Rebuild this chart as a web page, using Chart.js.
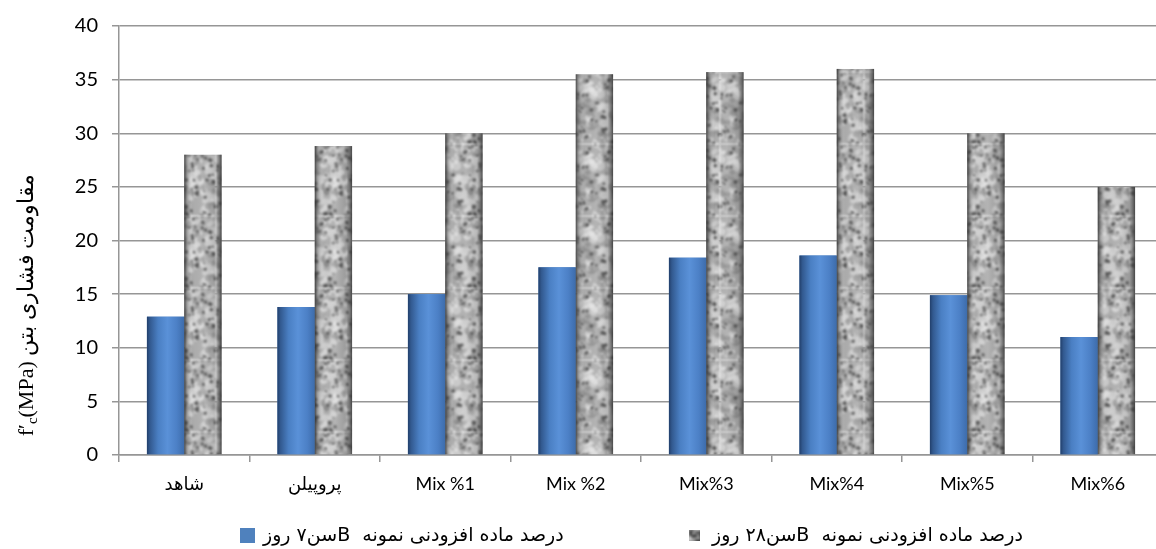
<!DOCTYPE html>
<html>
<head>
<meta charset="utf-8">
<script src="https://cdn.jsdelivr.net/npm/chart.js@4.4.1/dist/chart.umd.min.js"></script>
<style>
  html, body { margin: 0; padding: 0; background: #fff; overflow: hidden; }
  #wrap { width: 1166px; height: 549px; position: relative; }
</style>
</head>
<body>
<div id="wrap"><canvas id="c" width="1166" height="549"></canvas></div>
<script>
// Compressive strength of concrete mixes at 7 and 28 days
const categories = ['شاهد', 'پروپیلن', 'Mix %1', 'Mix %2', 'Mix%3', 'Mix%4', 'Mix%5', 'Mix%6'];
const strength7 = [12.9, 13.8, 15.0, 17.5, 18.4, 18.6, 14.9, 11.0];
const strength28 = [28.0, 28.8, 30.0, 35.5, 35.7, 36.0, 30.0, 25.0];
const seriesNames = ['درصد ماده افزودنی نمونه  Bسن۷ روز', 'درصد ماده افزودنی نمونه  Bسن۲۸ روز'];
const yMin = 0, yMax = 40, yStep = 5;

const GRID = '#969696';
const BLUE = '#4f81bd';

// Speckled stone texture for the 28-day bars (fixed seed, tiles seamlessly)
function makeGranite(size, base, seed) {
  const tile = document.createElement('canvas');
  tile.width = tile.height = size;
  const g = tile.getContext('2d');
  g.fillStyle = base;
  g.fillRect(0, 0, size, size);
  let s = seed;
  const next = () => (s = (s * 1103515245 + 12345) % 2147483648) / 2147483648;
  const blob = (color, rMin, rMax, n) => {
    for (let i = 0; i < n; i++) {
      const x = next() * size, y = next() * size;
      const r = rMin + next() * (rMax - rMin);
      const k = 0.6 + next() * 0.6, rot = next() * 3;
      g.fillStyle = color;
      for (const dx of [-size, 0, size]) for (const dy of [-size, 0, size]) {
        g.beginPath();
        g.ellipse(x + dx, y + dy, r, r * k, rot, 0, Math.PI * 2);
        g.fill();
      }
    }
  };
  blob('rgba(205,205,205,0.8)', 2.5, 6, 60);
  blob('rgba(225,225,225,0.7)', 1.5, 3.5, 50);
  blob('rgba(120,120,120,0.55)', 1.5, 3.5, 55);
  blob('rgba(55,55,55,0.8)', 0.9, 2.2, 75);
  // soften with a blur, drawn over a 3x3 repeat so the tile edges stay seamless
  const big = document.createElement('canvas');
  big.width = big.height = size * 3;
  const bg = big.getContext('2d');
  bg.filter = 'blur(0.9px)';
  for (let i = 0; i < 3; i++) for (let j = 0; j < 3; j++) bg.drawImage(tile, i * size, j * size);
  const out = document.createElement('canvas');
  out.width = out.height = size;
  out.getContext('2d').drawImage(big, size, size, size, size, 0, 0, size, size);
  return out;
}

const ctx0 = document.getElementById('c').getContext('2d');
const graniteTile = makeGranite(72, '#a6a6a6', 20240611);
const granitePattern = ctx0.createPattern(graniteTile, 'repeat');
const legendTile = makeGranite(24, '#c4c4c4', 777);

// Cylinder-like shading over each bar, positioned from the bar elements
const barShade = {
  id: 'barShade',
  afterDatasetsDraw(chart) {
    const { ctx, chartArea } = chart;
    ctx.save();
    ctx.beginPath();
    ctx.rect(chartArea.left, chartArea.top, chartArea.right - chartArea.left, chartArea.bottom - chartArea.top);
    ctx.clip();
    chart.data.datasets.forEach((ds, di) => {
      const meta = chart.getDatasetMeta(di);
      meta.data.forEach(el => {
        const { x, y, base, width } = el.getProps(['x', 'y', 'base', 'width'], true);
        const l = x - width / 2, r = x + width / 2;
        const gr = ctx.createLinearGradient(l, 0, r, 0);
        if (di === 0) {
          gr.addColorStop(0, '#223f6b');
          gr.addColorStop(0.08, '#32598f');
          gr.addColorStop(0.3, '#4a7fc3');
          gr.addColorStop(0.55, '#5a91d8');
          gr.addColorStop(0.8, '#4c80c6');
          gr.addColorStop(1, '#3d6cab');
        } else {
          gr.addColorStop(0, 'rgba(45,45,45,0.85)');
          gr.addColorStop(0.07, 'rgba(70,70,70,0.4)');
          gr.addColorStop(0.22, 'rgba(255,255,255,0.05)');
          gr.addColorStop(0.55, 'rgba(255,255,255,0.15)');
          gr.addColorStop(0.85, 'rgba(80,80,80,0.15)');
          gr.addColorStop(1, 'rgba(45,45,45,0.8)');
        }
        ctx.fillStyle = gr;
        ctx.fillRect(l, y, width, base - y);
      });
    });
    ctx.restore();
  }
};

// Rotated y-axis title with a subscript "c"
const yTitle = {
  id: 'yTitle',
  afterDraw(chart) {
    const { ctx } = chart;
    const cx = 25, cy = 305;
    const big = '22px "Liberation Serif", "DejaVu Serif", serif';
    const small = '15px "Liberation Serif", "DejaVu Serif", serif';
    const p1 = 'f′', p2 = 'c', p3 = '(MPa) مقاومت فشاری بتن';
    ctx.save();
    ctx.translate(cx, cy);
    ctx.rotate(-Math.PI / 2);
    ctx.fillStyle = '#000';
    ctx.textBaseline = 'alphabetic';
    ctx.textAlign = 'left';
    ctx.direction = 'ltr';
    ctx.font = big; const w1 = ctx.measureText(p1).width; const w3 = ctx.measureText(p3).width;
    ctx.font = small; const w2 = ctx.measureText(p2).width;
    let x = -(w1 + w2 + w3) / 2;
    const base = 8;
    ctx.font = big; ctx.fillText(p1, x, base); x += w1;
    ctx.font = small; ctx.fillText(p2, x, base + 4); x += w2;
    ctx.font = big; ctx.fillText(p3, x, base);
    ctx.restore();
  }
};

// Legend row along the bottom edge
const bottomLegend = {
  id: 'bottomLegend',
  afterDraw(chart) {
    const { ctx } = chart;
    const yMid = 536;
    const starts = [240, 689];
    ctx.save();
    ctx.font = '19px "DejaVu Sans", sans-serif';
    ctx.textBaseline = 'middle';
    ctx.direction = 'rtl';
    ctx.textAlign = 'left';
    chart.data.datasets.forEach((ds, i) => {
      const x0 = starts[i];
      if (i === 0) {
        ctx.fillStyle = BLUE;
        ctx.fillRect(x0, yMid - 8, 15, 15);
      } else {
        ctx.drawImage(legendTile, 0, 0, 11, 11, x0, yMid - 6, 11, 11);
      }
      ctx.fillStyle = '#000';
      ctx.fillText(ds.label, x0 + (i === 0 ? 23 : 23), yMid);
    });
    ctx.restore();
  }
};

new Chart(ctx0, {
  type: 'bar',
  data: {
    labels: categories,
    datasets: [
      { label: seriesNames[0], data: strength7, backgroundColor: BLUE, borderWidth: 0,
        categoryPercentage: 0.572, barPercentage: 1.0 },
      { label: seriesNames[1], data: strength28, backgroundColor: granitePattern, borderWidth: 0,
        categoryPercentage: 0.572, barPercentage: 1.0 }
    ]
  },
  options: {
    responsive: false,
    animation: false,
    devicePixelRatio: 1,
    layout: { padding: { top: 24, left: 0, right: 3, bottom: 0 } },
    plugins: {
      legend: { display: false },
      tooltip: { enabled: false },
      title: { display: false }
    },
    scales: {
      x: {
        grid: { offset: true, drawOnChartArea: false, drawTicks: true, tickLength: 7, color: GRID, lineWidth: 1.5 },
        border: { color: GRID, width: 1.5 },
        ticks: { color: '#000', font: { family: 'Lato, "DejaVu Sans", sans-serif', size: 18 }, padding: 11, maxRotation: 0 },
        afterFit(scale) { scale.height = 94; }
      },
      y: {
        min: yMin, max: yMax,
        grid: { color: GRID, lineWidth: 1.5, tickLength: 7 },
        border: { color: GRID, width: 1.5 },
        ticks: { stepSize: yStep, color: '#000', font: { family: 'Lato, sans-serif', size: 20 }, padding: 14 },
        afterFit(scale) { scale.width = 119; }
      }
    }
  },
  plugins: [barShade, yTitle, bottomLegend]
});
</script>
</body>
</html>
